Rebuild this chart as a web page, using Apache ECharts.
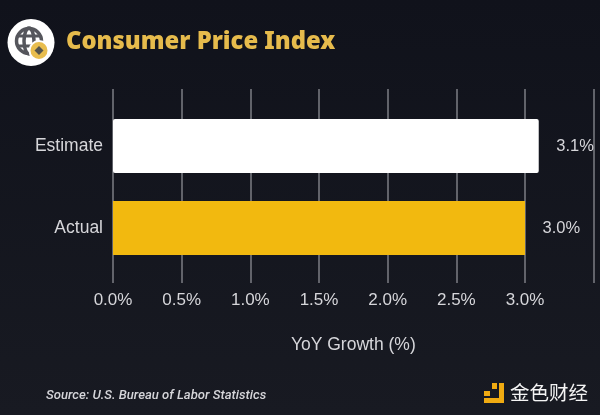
<!DOCTYPE html>
<html><head><meta charset="utf-8">
<script src="https://cdn.jsdelivr.net/npm/echarts@6/dist/echarts.min.js"></script>
<style>html,body{margin:0;padding:0;background:#13151e}#c{width:600px;height:415px}</style>
</head><body><div id="c"></div>
<script>
const categories = ['Actual', 'Estimate'];
const values = [3.0, 3.1];
const barColors = ['#f2b90f', '#ffffff'];
const titleText = 'Consumer Price Index';
const sourceText = 'Source: U.S. Bureau of Labor Statistics';
const axisTitle = 'YoY Growth (%)';
const watermark = '金色财经';
const font = '"Liberation Sans", Arial, sans-serif';
const amber = '#f0ab12';
const chart = echarts.init(document.getElementById('c'));
const xBase = { type: 'value', min: 0, max: 3.5, interval: 0.5 };
chart.setOption({
  animation: false,
  backgroundColor: { type: 'linear', x: 0, y: 0, x2: 0, y2: 1, colorStops: [{ offset: 0, color: '#10121b' }, { offset: 1, color: '#181a22' }] },
  title: { text: titleText, left: 61, top: 25, textStyle: { color: '#e6bb4c', fontFamily: '"Noto Sans"', fontWeight: 900, fontSize: 23.8 } },
  grid: [
    { left: 113, top: 89, width: 480.67, height: 194 },
    { left: 113, top: 105, width: 480.67, height: 164 }
  ],
  xAxis: [
    { ...xBase, gridIndex: 0,
      name: axisTitle, nameLocation: 'middle', nameGap: 53,
      nameTextStyle: { color: '#d6d6da', fontFamily: font, fontSize: 17.5 },
      axisLine: { show: false }, axisTick: { show: false },
      axisLabel: { color: '#d6d6da', fontFamily: font, fontSize: 17, margin: 9,
        formatter: v => v > 3 ? '' : v.toFixed(1) + '%' },
      splitLine: { show: true, lineStyle: { color: '#7d7e84', width: 1.5 } } },
    { ...xBase, gridIndex: 1, show: false }
  ],
  yAxis: [
    { type: 'value', gridIndex: 0, show: false, min: 0, max: 1 },
    { type: 'category', gridIndex: 1, data: categories,
      axisLine: { show: false }, axisTick: { show: false },
      axisLabel: { color: '#d6d6da', fontFamily: font, fontSize: 17.5, margin: 10 } }
  ],
  series: [{
    type: 'bar', xAxisIndex: 1, yAxisIndex: 1, barWidth: 54,
    data: values.map((v, i) => ({ value: v, itemStyle: { color: barColors[i], borderRadius: i === 1 ? 2 : 0 } })),
    label: { show: true, position: 'right', distance: 17.5, color: '#d6d6da', fontFamily: font, fontSize: 16.5,
      formatter: p => p.value.toFixed(1) + '%' }
  }],
  graphic: [
    { type: 'circle', shape: { cx: 31, cy: 42.5, r: 23.5 }, style: { fill: '#ffffff' } },
    { type: 'circle', shape: { cx: 29, cy: 41, r: 12.5 }, style: { fill: 'none', stroke: '#55565c', lineWidth: 3.5 } },
    { type: 'ellipse', shape: { cx: 29, cy: 41, rx: 5, ry: 13 }, style: { fill: 'none', stroke: '#55565c', lineWidth: 3.5 } },
    { type: 'line', shape: { x1: 17, y1: 36, x2: 41, y2: 36 }, style: { stroke: '#55565c', lineWidth: 3 } },
    { type: 'line', shape: { x1: 17, y1: 46, x2: 41, y2: 46 }, style: { stroke: '#55565c', lineWidth: 3 } },
    { type: 'circle', shape: { cx: 39, cy: 50.5, r: 9.5 }, style: { fill: '#e8bd4e', stroke: '#ffffff', lineWidth: 2 } },
    { type: 'polygon', shape: { points: [[39, 46], [43.5, 50.5], [39, 55], [34.5, 50.5]] }, style: { fill: '#54544c' } },
    { type: 'text', left: 46, top: 389, style: { text: sourceText, fill: '#d6d6da', font: 'italic 500 13.1px Roboto' } },
    { type: 'rect', shape: { x: 484, y: 391, width: 6, height: 5 }, style: { fill: amber } },
    { type: 'rect', shape: { x: 484, y: 398, width: 20, height: 5 }, style: { fill: amber } },
    { type: 'rect', shape: { x: 499, y: 383, width: 5, height: 20 }, style: { fill: amber } },
    { type: 'rect', shape: { x: 492, y: 383, width: 5, height: 6 }, style: { fill: amber } },
    { type: 'text', left: 510, top: 383, style: { text: watermark, fill: '#f4f4f4', font: '19.5px "Noto Sans CJK SC"' } }
  ]
});
</script></body></html>
